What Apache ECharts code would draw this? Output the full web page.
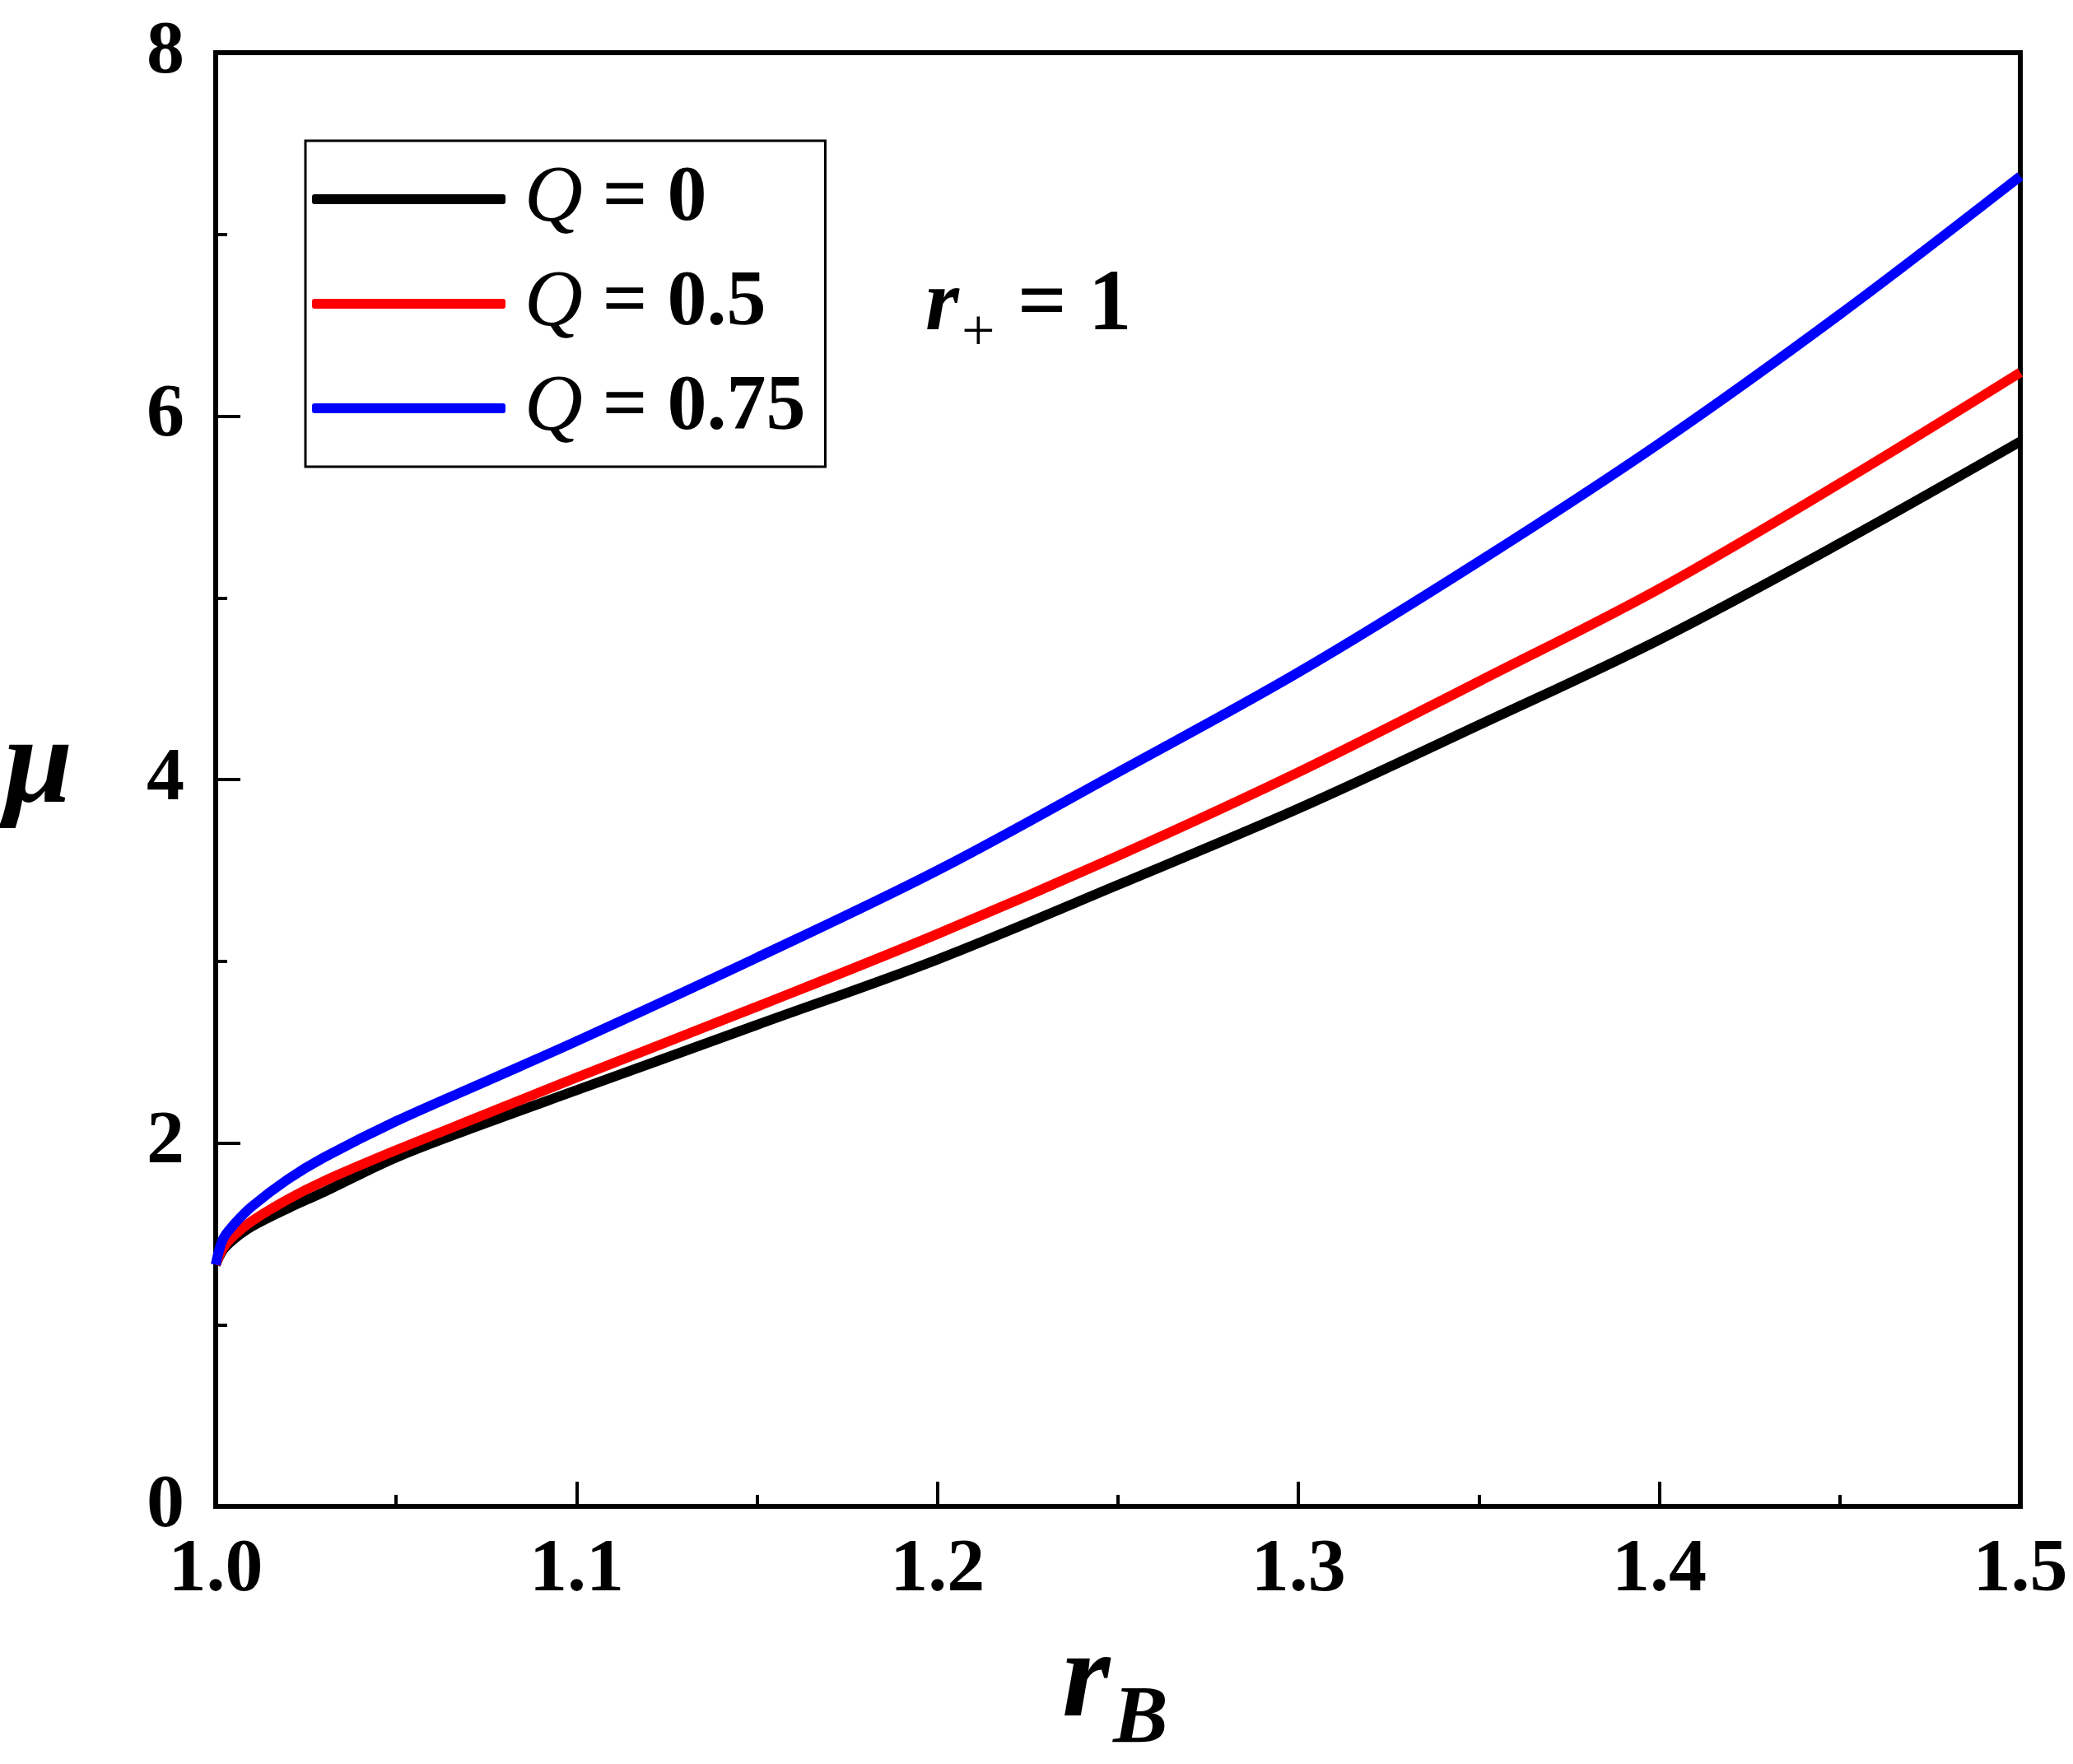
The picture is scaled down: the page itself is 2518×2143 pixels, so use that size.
<!DOCTYPE html>
<html>
<head>
<meta charset="utf-8">
<script src="https://cdn.jsdelivr.net/npm/echarts@6/dist/echarts.min.js"></script>
<style>
html,body{margin:0;padding:0;background:#fff;}
#main{width:2518px;height:2143px;}
</style>
</head>
<body>
<div id="main"></div>
<script>
/*曲线数据 r_B - mu*/
var rB = [1.0, 1.002, 1.005, 1.01, 1.02, 1.03, 1.05, 1.075, 1.1, 1.15, 1.2, 1.25, 1.3, 1.35, 1.4, 1.45, 1.5];
var muQ0 = [1.33, 1.41, 1.47, 1.54, 1.64, 1.73, 1.92, 2.11, 2.29, 2.65, 3.01, 3.42, 3.84, 4.30, 4.77, 5.30, 5.86];
var muQ05 = [1.33, 1.42, 1.49, 1.57, 1.69, 1.79, 1.96, 2.16, 2.36, 2.75, 3.15, 3.58, 4.04, 4.54, 5.05, 5.63, 6.24];
var muQ075 = [1.33, 1.47, 1.55, 1.65, 1.80, 1.92, 2.12, 2.34, 2.56, 3.02, 3.50, 4.04, 4.59, 5.20, 5.85, 6.56, 7.32];
var qLabels = ['0', '0.5', '0.75'];
var lineColors = ['#000000', '#ff0000', '#0000ff'];
var xTicks = [1.0, 1.1, 1.2, 1.3, 1.4, 1.5];
var yTicks = [0, 2, 4, 6, 8];

var serif = '"Liberation Serif", "Times New Roman", serif';

//把x、y数组拼成点
function pairs(xs, ys) {
    var out = [];
    for (var i = 0; i < xs.length; i++) { out.push([xs[i], ys[i]]); }
    return out;
}

var allMu = [muQ0, muQ05, muQ075];
var series = [];
for (var k = 0; k < allMu.length; k++) {
    series.push({
        name: 'Q = ' + qLabels[k],
        type: 'line',
        data: pairs(rB, allMu[k]),
        showSymbol: false,
        symbol: 'none',
        smooth: 0.35,
        lineStyle: { color: lineColors[k], width: 12 },
        itemStyle: { color: lineColors[k] },
        z: 3 + k
    });
}

var myChart = echarts.init(document.getElementById('main'));
var option = {
    backgroundColor: '#fff',
    animation: false,
    grid: {
        left: 262, right: 64, top: 64, bottom: 313,
        show: true, borderColor: '#000', borderWidth: 6, backgroundColor: 'transparent'
    },
    legend: {
        orient: 'vertical',
        left: 371, top: 171,
        padding: [22, 24, 22, 8],
        itemGap: 29,
        itemWidth: 235, itemHeight: 12,
        icon: 'roundRect',
        borderColor: '#000', borderWidth: 3,
        backgroundColor: '#fff',
        data: series.map(function (s) { return s.name; }),
        formatter: function (name) {
            return '{q|Q}{v|' + name.slice(1) + '}';
        },
        textStyle: {
            color: '#000',
            padding: [0, 0, 0, 18],
            rich: {
                q: { fontFamily: serif, fontSize: 98, fontStyle: 'italic', color: '#000', lineHeight: 100 },
                v: { fontFamily: serif, fontSize: 96, fontWeight: 'bold', color: '#000', lineHeight: 100 }
            }
        }
    },
    xAxis: {
        type: 'value',
        min: xTicks[0], max: xTicks[xTicks.length - 1], interval: 0.1,
        axisLine: { show: true, lineStyle: { color: '#000', width: 6 } },
        axisTick: { show: true, inside: true, length: 30, lineStyle: { color: '#000', width: 4 } },
        minorTick: { show: true, splitNumber: 2, length: 14, lineStyle: { color: '#000', width: 4 } },
        splitLine: { show: false },
        axisLabel: {
            margin: 32, color: '#000', fontFamily: serif, fontSize: 92, fontWeight: 'bold',
            formatter: function (v) { return v.toFixed(1); }
        }
    },
    yAxis: {
        type: 'value',
        min: yTicks[0], max: yTicks[yTicks.length - 1], interval: 2,
        axisLine: { show: true, lineStyle: { color: '#000', width: 6 } },
        axisTick: { show: true, inside: true, length: 30, lineStyle: { color: '#000', width: 4 } },
        minorTick: { show: true, splitNumber: 2, length: 14, lineStyle: { color: '#000', width: 4 } },
        splitLine: { show: false },
        axisLabel: {
            margin: 38, color: '#000', fontFamily: serif, fontSize: 92, fontWeight: 'bold'
        }
    },
    graphic: [
        /*x轴标题 r_B*/
        { type: 'text', left: 1290, top: 1970, style: { text: 'r', font: 'italic bold 150px ' + serif, fill: '#000' } },
        { type: 'text', left: 1352, top: 2040, style: { text: 'B', font: 'italic bold 100px ' + serif, fill: '#000' } },
        /*y轴标题 mu*/
        { type: 'text', left: 5, top: 860, style: { text: 'μ', font: 'italic bold 150px ' + serif, fill: '#000' } },
        /*r+ = 1 注释*/
        { type: 'text', left: 1124, top: 320, style: { text: 'r', font: 'italic bold 105px ' + serif, fill: '#000' } },
        { type: 'text', left: 1168, top: 370, style: { text: '+', font: '72px ' + serif, fill: '#000' } },
        { type: 'text', left: 1236, top: 320, style: { text: '= 1', font: 'bold 105px ' + serif, fill: '#000' } }
    ],
    series: series
};
myChart.setOption(option);
</script>
</body>
</html>
